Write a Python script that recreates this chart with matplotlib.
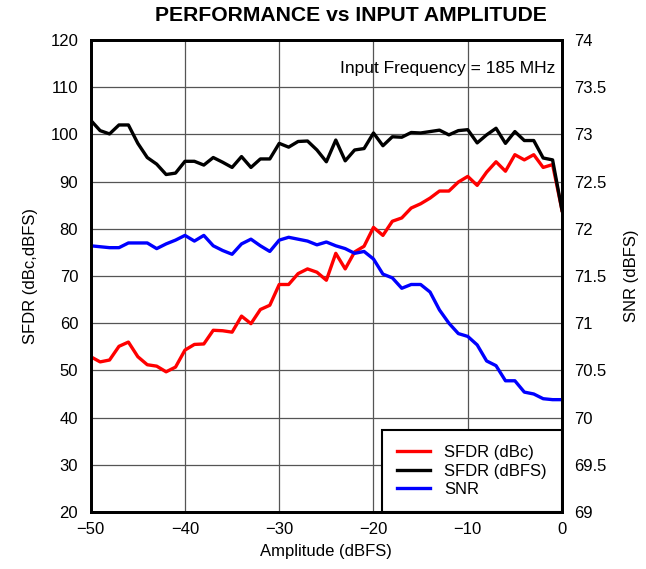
import matplotlib
matplotlib.use('Agg')
import matplotlib.pyplot as plt
from matplotlib.ticker import FuncFormatter

plt.rcParams['font.family'] = ['Liberation Sans', 'DejaVu Sans']
plt.rcParams['axes.unicode_minus'] = True

amplitude = list(range(-50, 1))

sfdr_dbc = [52.9, 51.8, 52.2, 55.1, 56.0, 52.9, 51.2, 50.9, 49.7, 50.7,
            54.3, 55.5, 55.6, 58.5, 58.4, 58.1, 61.5, 59.9, 62.9, 63.8,
            68.2, 68.2, 70.5, 71.5, 70.8, 69.1, 74.8, 71.5, 75.1, 76.3,
            80.3, 78.6, 81.6, 82.3, 84.4, 85.3, 86.5, 88.0, 88.0, 89.9,
            91.1, 89.2, 92.0, 94.2, 92.2, 95.7, 94.6, 95.7, 93.0, 93.6,
            83.9]

sfdr_dbfs = [103.0, 100.8, 100.1, 102.0, 102.0, 98.1, 95.1, 93.7, 91.5, 91.8,
             94.3, 94.3, 93.5, 95.1, 94.1, 93.0, 95.3, 93.0, 94.8, 94.8,
             98.1, 97.3, 98.5, 98.6, 96.7, 94.2, 98.8, 94.4, 96.7, 97.0,
             100.3, 97.6, 99.5, 99.4, 100.4, 100.3, 100.6, 100.9, 99.9, 100.8,
             101.0, 98.2, 99.9, 101.3, 98.1, 100.6, 98.7, 98.7, 95.0, 94.6,
             83.9]

snr = [71.82, 71.81, 71.80, 71.80, 71.85, 71.85, 71.85, 71.79, 71.84, 71.88,
       71.93, 71.87, 71.93, 71.82, 71.77, 71.73, 71.84, 71.89, 71.82, 71.76,
       71.88, 71.91, 71.89, 71.87, 71.83, 71.86, 71.82, 71.79, 71.74, 71.76,
       71.68, 71.52, 71.48, 71.37, 71.41, 71.41, 71.33, 71.14, 71.00, 70.89,
       70.86, 70.77, 70.60, 70.55, 70.39, 70.39, 70.27, 70.25, 70.20, 70.19,
       70.19]

fig = plt.figure(figsize=(6.46, 5.69), dpi=100)
ax = fig.add_axes([0.1404, 0.1002, 0.7296, 0.8295])
ax2 = ax.twinx()

l1, = ax.plot(amplitude, sfdr_dbc, color='#ff0000', lw=2.4, label='SFDR (dBc)')
l2, = ax.plot(amplitude, sfdr_dbfs, color='black', lw=2.4, label='SFDR (dBFS)')
l3, = ax2.plot(amplitude, snr, color='#0000ff', lw=2.4, label='SNR')

ax.set_xlim(-50, 0)
ax.set_ylim(20, 120)
ax2.set_ylim(69, 74)
ax.set_xticks(range(-50, 1, 10))
ax.set_yticks(range(20, 121, 10))
ax2.set_yticks([69 + 0.5 * i for i in range(11)])
ax2.yaxis.set_major_formatter(FuncFormatter(lambda v, p: '%g' % v))

ax.grid(True, color='#555555', lw=0.9)
for a in (ax, ax2):
    a.tick_params(labelsize=12, length=0, pad=9)
    for s in a.spines.values():
        s.set_linewidth(2)
        s.set_color('black')
ax.tick_params(axis='y', pad=9)
ax2.tick_params(axis='y', pad=9)
ax.tick_params(axis='x', pad=7)

ax.set_xlabel('Amplitude (dBFS)', fontsize=12, labelpad=5)
ax.set_ylabel('SFDR (dBc,dBFS)', fontsize=12, labelpad=9)
ax2.set_ylabel('SNR (dBFS)', fontsize=12, labelpad=12)
fig.text(0.543, 0.973, 'PERFORMANCE vs INPUT AMPLITUDE', fontsize=15.2,
         fontweight='bold', ha='center', va='center')

ax.text(0.985, 0.955, 'Input Frequency = 185 MHz', transform=ax.transAxes,
        ha='right', va='top', fontsize=12.5)

leg = ax2.legend(handles=[l1, l2, l3], loc='lower right', fontsize=12,
                 fancybox=False, framealpha=1, edgecolor='black',
                 borderaxespad=0, handlelength=2.0, handletextpad=0.85,
                 borderpad=0.9, labelspacing=0.2)
leg.get_frame().set_linewidth(1.5)

fig.savefig('out.png', dpi=100)
